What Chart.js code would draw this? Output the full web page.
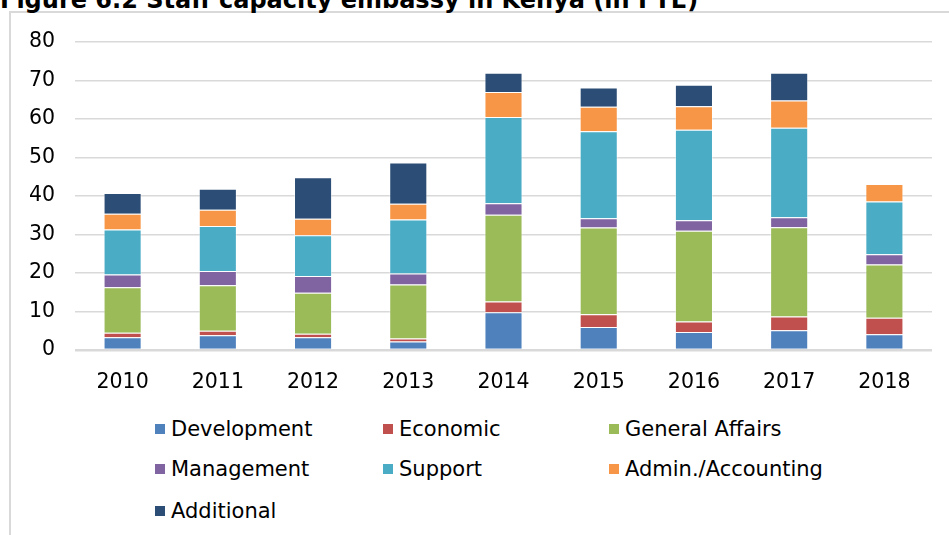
<!DOCTYPE html>
<html>
<head>
<meta charset="utf-8">
<script src="https://cdn.jsdelivr.net/npm/chart.js@4/dist/chart.umd.min.js"></script>
<style>
  body{ margin:0; background:#fff; font-family:"DejaVu Sans", Verdana, sans-serif; }
  #wrap{ position:relative; width:949px; height:535px; overflow:hidden; background:#fff; }
  #frame{ position:absolute; left:9px; top:11px; right:-2px; bottom:-2px; border-left:2px solid #d9d9d9; border-top:2px solid #d9d9d9; }
  #title{ position:absolute; left:0; top:-12px; font-weight:bold; font-size:24px; line-height:24px; white-space:nowrap; color:#000; }
  #chart{ position:absolute; left:0; top:0; }
  #legend .item{ position:absolute; font-size:21px; line-height:24px; color:#000; white-space:nowrap; }
  #legend .box{ position:absolute; left:0; top:7px; width:10px; height:10px; }
  #legend .label{ position:absolute; left:16px; top:0; }
</style>
</head>
<body>
<div id="wrap">
  <div id="frame"></div>
  <div id="title">Figure 6.2 Staff capacity embassy in Kenya (in FTE)</div>
  <canvas id="chart" width="949" height="400"></canvas>
  <div id="legend"></div>
</div>
<script>
const years = ["2010","2011","2012","2013","2014","2015","2016","2017","2018"];
const development    = [3.3, 3.8, 3.3, 2.2, 9.8, 6.0, 4.7, 5.1, 4.1];
const economic       = [1.2, 1.2, 0.9, 0.8, 2.8, 3.3, 2.7, 3.6, 4.3];
const generalAffairs = [11.8, 11.8, 10.7, 14.0, 22.5, 22.5, 23.6, 23.2, 13.8];
const management     = [3.3, 3.7, 4.3, 2.9, 3.0, 2.4, 2.7, 2.6, 2.7];
const support        = [11.7, 11.7, 10.6, 14.0, 22.4, 22.6, 23.5, 23.2, 13.7];
const adminAccounting= [4.1, 4.2, 4.3, 4.1, 6.5, 6.4, 6.1, 7.1, 4.5];
const additional     = [5.4, 5.5, 10.8, 10.7, 5.0, 5.0, 5.6, 7.2, 0];
const yTicks = [0,10,20,30,40,50,60,70,80];

const series = [
  {label:"Development", data:development, color:"#4f81bd"},
  {label:"Economic", data:economic, color:"#c0504d"},
  {label:"General Affairs", data:generalAffairs, color:"#9bbb59"},
  {label:"Management", data:management, color:"#8064a2"},
  {label:"Support", data:support, color:"#4bacc6"},
  {label:"Admin./Accounting", data:adminAccounting, color:"#f79646"},
  {label:"Additional", data:additional, color:"#2c4d75"}
];

const ctx = document.getElementById("chart");
const chart = new Chart(ctx,{
  type:"bar",
  data:{
    labels:years,
    datasets:series.map(s=>({
      label:s.label,
      data:s.data,
      backgroundColor:s.color,
      borderColor:"rgba(255,255,255,0.45)",
      borderWidth:1,
      barPercentage:0.4,
      categoryPercentage:1
    }))
  },
  options:{
    responsive:false,
    animation:false,
    layout:{ padding:{ left:29, right:17, top:42, bottom:0 } },
    plugins:{ legend:{ display:false }, tooltip:{ enabled:false } },
    scales:{
      x:{
        stacked:true,
        grid:{ display:false },
        border:{ display:false },
        ticks:{ color:"#000", font:{ family:"DejaVu Sans", size:20.5 }, padding:12 },
        afterFit: scale=>{ scale.height = 50; }
      },
      y:{
        stacked:true,
        min:0, max:80,
        afterBuildTicks: scale=>{ scale.ticks = yTicks.map(v=>({value:v})); },
        grid:{
          drawTicks:false,
          color:"#d9d9d9",
          lineWidth: c=> c.tick && c.tick.value===0 ? 2.5 : 1.5
        },
        border:{ display:false },
        ticks:{ color:"#000", font:{ family:"DejaVu Sans", size:20.5 }, padding:20 },
        afterFit: scale=>{ scale.width = 46; }
      }
    }
  }
});

// legend in three columns like the original
const legendCols = [155, 383, 609];
const legendRows = [417, 457, 499];
const legend = document.getElementById("legend");
chart.data.datasets.forEach((ds,i)=>{
  const item = document.createElement("div");
  item.className = "item";
  item.style.left = legendCols[i%3] + "px";
  item.style.top = legendRows[Math.floor(i/3)] + "px";
  item.innerHTML = `<span class="box" style="background:${ds.backgroundColor}"></span><span class="label">${ds.label}</span>`;
  legend.appendChild(item);
});
</script>
</body>
</html>
